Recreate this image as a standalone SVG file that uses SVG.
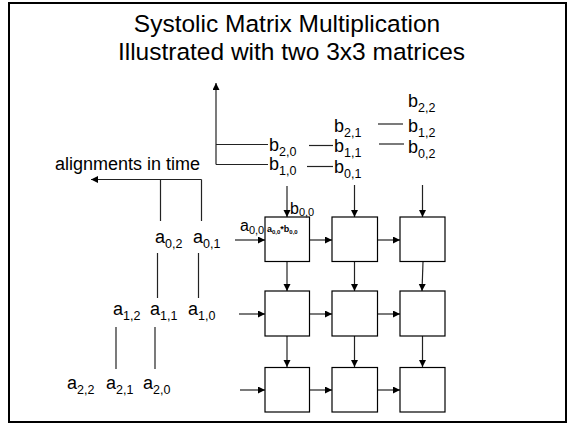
<svg xmlns="http://www.w3.org/2000/svg" width="569" height="424" viewBox="0 0 569 424">
<style>
text{font-family:"Liberation Sans",Arial,sans-serif;fill:#000}
.title{font-size:24.5px;text-anchor:middle}
.lbl{font-size:18px}
.lbl2{font-size:16px}
.sub{font-size:12.5px}
.sub2{font-size:11px}
.tiny{font-size:9px;font-weight:bold}
.tsub{font-size:6px;font-weight:bold}
.cell{fill:#fff;stroke:#000;stroke-width:1.2}
.ln{fill:none;stroke:#222;stroke-width:1.2}
.ar{fill:none;stroke:#222;stroke-width:1.2;marker-end:url(#ah)}
</style>
<defs>
<marker id="ah" markerUnits="userSpaceOnUse" markerWidth="8" markerHeight="8" refX="7" refY="3.5" orient="auto">
<path d="M0,0 L7,3.5 L0,7 z" fill="#000"/>
</marker>
</defs>
<rect x="9" y="3" width="557" height="419" fill="#fff" stroke="#000" stroke-width="2"/>
<g id="title">
<text class="title" x="287" y="32">Systolic Matrix Multiplication</text>
<text class="title" x="291.5" y="59.5">Illustrated with two 3x3 matrices</text>
</g>
<g id="connectors">
<path class="ar" d="M216,164.5 L216,83"/>
<path class="ln" d="M216,144.5 L268,144.5"/>
<path class="ln" d="M216,164.5 L268,164.5"/>
<path class="ln" d="M309,145.5 L333,145.5"/>
<path class="ln" d="M307,166.5 L333,166.5"/>
<path class="ln" d="M378,124 L403,124"/>
<path class="ln" d="M379,144 L404,144"/>
<path class="ar" d="M201.5,179.5 L91,179.5"/>
<path class="ln" d="M160.5,179.5 L160.5,221"/>
<path class="ln" d="M201.5,179.5 L201.5,221"/>
<path class="ln" d="M157.5,253 L157.5,298"/>
<path class="ln" d="M198.5,253 L198.5,298"/>
<path class="ln" d="M116,327 L116,369"/>
<path class="ln" d="M155,327 L155,369"/>
<path class="ar" d="M287,186 L287,217"/>
<path class="ar" d="M354.5,185 L354.5,217"/>
<path class="ar" d="M422.5,185 L422.5,217"/>
<path class="ar" d="M287,262 L287,291"/>
<path class="ar" d="M354.5,262 L354.5,291"/>
<path class="ar" d="M423,262 L422,291"/>
<path class="ar" d="M287,336 L287,367"/>
<path class="ar" d="M354.5,336 L354.5,367"/>
<path class="ar" d="M422.5,336 L422.5,367"/>
<path class="ar" d="M235,240 L265,240"/>
<path class="ar" d="M239,314 L265,314"/>
<path class="ar" d="M240,390 L265,390"/>
<path class="ar" d="M309.5,240 L332,240"/>
<path class="ar" d="M377.5,240 L400,240"/>
<path class="ar" d="M309.5,314 L332,314"/>
<path class="ar" d="M377.5,314 L400,314"/>
<path class="ar" d="M309.5,390 L332,390"/>
<path class="ar" d="M377.5,390 L400,390"/>
</g>
<g id="cell-0-0"><rect class="cell" x="265" y="217" width="44.5" height="44.5"/>
<text x="267" y="232"><tspan class="tiny">a</tspan><tspan class="tsub" dy="1.5">0,0</tspan><tspan class="tiny" dy="-1.5">*b</tspan><tspan class="tsub" dy="1.5">0,0</tspan></text></g>
<g id="cell-0-1"><rect class="cell" x="332" y="217" width="45.5" height="44.5"/></g>
<g id="cell-0-2"><rect class="cell" x="400" y="217" width="45" height="44.5"/></g>
<g id="cell-1-0"><rect class="cell" x="265" y="291" width="44.5" height="45"/></g>
<g id="cell-1-1"><rect class="cell" x="332" y="291" width="45.5" height="45"/></g>
<g id="cell-1-2"><rect class="cell" x="400" y="291" width="45" height="45"/></g>
<g id="cell-2-0"><rect class="cell" x="265" y="367.5" width="44.5" height="44.5"/></g>
<g id="cell-2-1"><rect class="cell" x="332" y="367.5" width="45.5" height="44.5"/></g>
<g id="cell-2-2"><rect class="cell" x="400" y="367.5" width="45" height="44.5"/></g>
<g id="labels-b">
<text class="lbl" x="408" y="107">b<tspan class="sub" dy="5">2,2</tspan></text>
<text class="lbl" x="334" y="132">b<tspan class="sub" dy="5">2,1</tspan></text>
<text class="lbl" x="408" y="132">b<tspan class="sub" dy="5">1,2</tspan></text>
<text class="lbl" x="269" y="151">b<tspan class="sub" dy="5">2,0</tspan></text>
<text class="lbl" x="334" y="151.5">b<tspan class="sub" dy="5">1,1</tspan></text>
<text class="lbl" x="408" y="153">b<tspan class="sub" dy="5">0,2</tspan></text>
<text class="lbl" x="269" y="170">b<tspan class="sub" dy="5">1,0</tspan></text>
<text class="lbl" x="334" y="173">b<tspan class="sub" dy="5">0,1</tspan></text>
<text class="lbl2" x="290" y="214">b<tspan class="sub2" dy="2">0,0</tspan></text>
</g>
<g id="labels-a">
<text class="lbl" x="55" y="170">alignments in time</text>
<text class="lbl" x="155" y="243">a<tspan class="sub" dy="5">0,2</tspan></text>
<text class="lbl" x="193" y="243">a<tspan class="sub" dy="5">0,1</tspan></text>
<text class="lbl2" x="240" y="231">a<tspan class="sub2" dy="3">0,0</tspan></text>
<text class="lbl" x="113" y="315">a<tspan class="sub" dy="5">1,2</tspan></text>
<text class="lbl" x="150" y="315">a<tspan class="sub" dy="5">1,1</tspan></text>
<text class="lbl" x="188" y="315">a<tspan class="sub" dy="5">1,0</tspan></text>
<text class="lbl" x="67" y="389">a<tspan class="sub" dy="5">2,2</tspan></text>
<text class="lbl" x="106" y="389">a<tspan class="sub" dy="5">2,1</tspan></text>
<text class="lbl" x="143" y="389">a<tspan class="sub" dy="5">2,0</tspan></text>
</g>
</svg>
